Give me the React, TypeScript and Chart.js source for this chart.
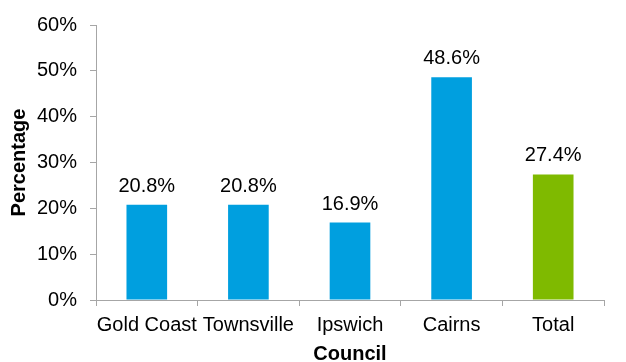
import React, { useEffect, useRef } from "react";
import { Chart, registerables } from "chart.js";

Chart.register(...registerables);

const categories = ["Gold Coast", "Townsville", "Ipswich", "Cairns", "Total"];
const values = [20.8, 20.8, 16.9, 48.6, 27.4];
const barColors = ["#009FDF", "#009FDF", "#009FDF", "#009FDF", "#7FBA00"];
const yTicks = [0, 10, 20, 30, 40, 50, 60];

const FONT = "'Liberation Sans', Arial, sans-serif";

const labelPlugin = {
  id: "barLabels",
  afterDatasetsDraw(chart: any) {
    const ctx = chart.ctx;
    const meta = chart.getDatasetMeta(0);
    ctx.save();
    ctx.font = `20px ${FONT}`;
    ctx.fillStyle = "#000";
    ctx.textAlign = "center";
    ctx.textBaseline = "alphabetic";
    meta.data.forEach((bar: any, i: number) => {
      ctx.fillText(values[i].toFixed(1) + "%", bar.x, bar.y - 13);
    });
    ctx.restore();
  },
};

export default function App() {
  const ref = useRef<HTMLCanvasElement | null>(null);
  useEffect(() => {
    if (!ref.current) return;
    const chart = new Chart(ref.current, {
      type: "bar",
      data: {
        labels: categories,
        datasets: [
          {
            data: values,
            backgroundColor: barColors,
            barPercentage: 0.4,
            categoryPercentage: 1,
          },
        ],
      },
      options: {
        animation: false,
        responsive: false,
        layout: { padding: { left: 0, right: 22, top: 22, bottom: 0 } },
        plugins: { legend: { display: false }, tooltip: { enabled: false } },
        scales: {
          x: {
            grid: { display: true, drawOnChartArea: false, color: "#A6A6A6", tickLength: 6 },
            border: { color: "#A6A6A6" },
            ticks: { color: "#000", font: { family: FONT, size: 20 }, padding: 7, maxRotation: 0, autoSkip: false },
            title: {
              display: true,
              text: "Council",
              color: "#000",
              font: { family: FONT, size: 20, weight: "bold", lineHeight: 0.8 },
              padding: { top: 0, bottom: 0 },
            },
            afterFit(scale: any) {
              scale.height = 62;
            },
          },
          y: {
            min: 0,
            max: 60,
            afterBuildTicks(scale: any) {
              scale.ticks = yTicks.map((v) => ({ value: v }));
            },
            grid: { display: true, drawOnChartArea: false, color: "#A6A6A6", tickLength: 6 },
            border: { color: "#A6A6A6" },
            ticks: {
              color: "#000",
              font: { family: FONT, size: 20 },
              padding: 13,
              callback: (v: any) => v + "%",
            },
            title: {
              display: true,
              text: "Percentage",
              color: "#000",
              font: { family: FONT, size: 20, weight: "bold", lineHeight: 1 },
              padding: { top: 9, bottom: 0 },
            },
            afterFit(scale: any) {
              scale.width = 96;
            },
          },
        },
      } as any,
      plugins: [labelPlugin],
    });
    return () => chart.destroy();
  }, []);
  return (
    <div style={{ position: "fixed", left: 0, top: 0, width: 626, height: 362, background: "#fff" }}>
      <canvas ref={ref} width={626} height={362} />
    </div>
  );
}
